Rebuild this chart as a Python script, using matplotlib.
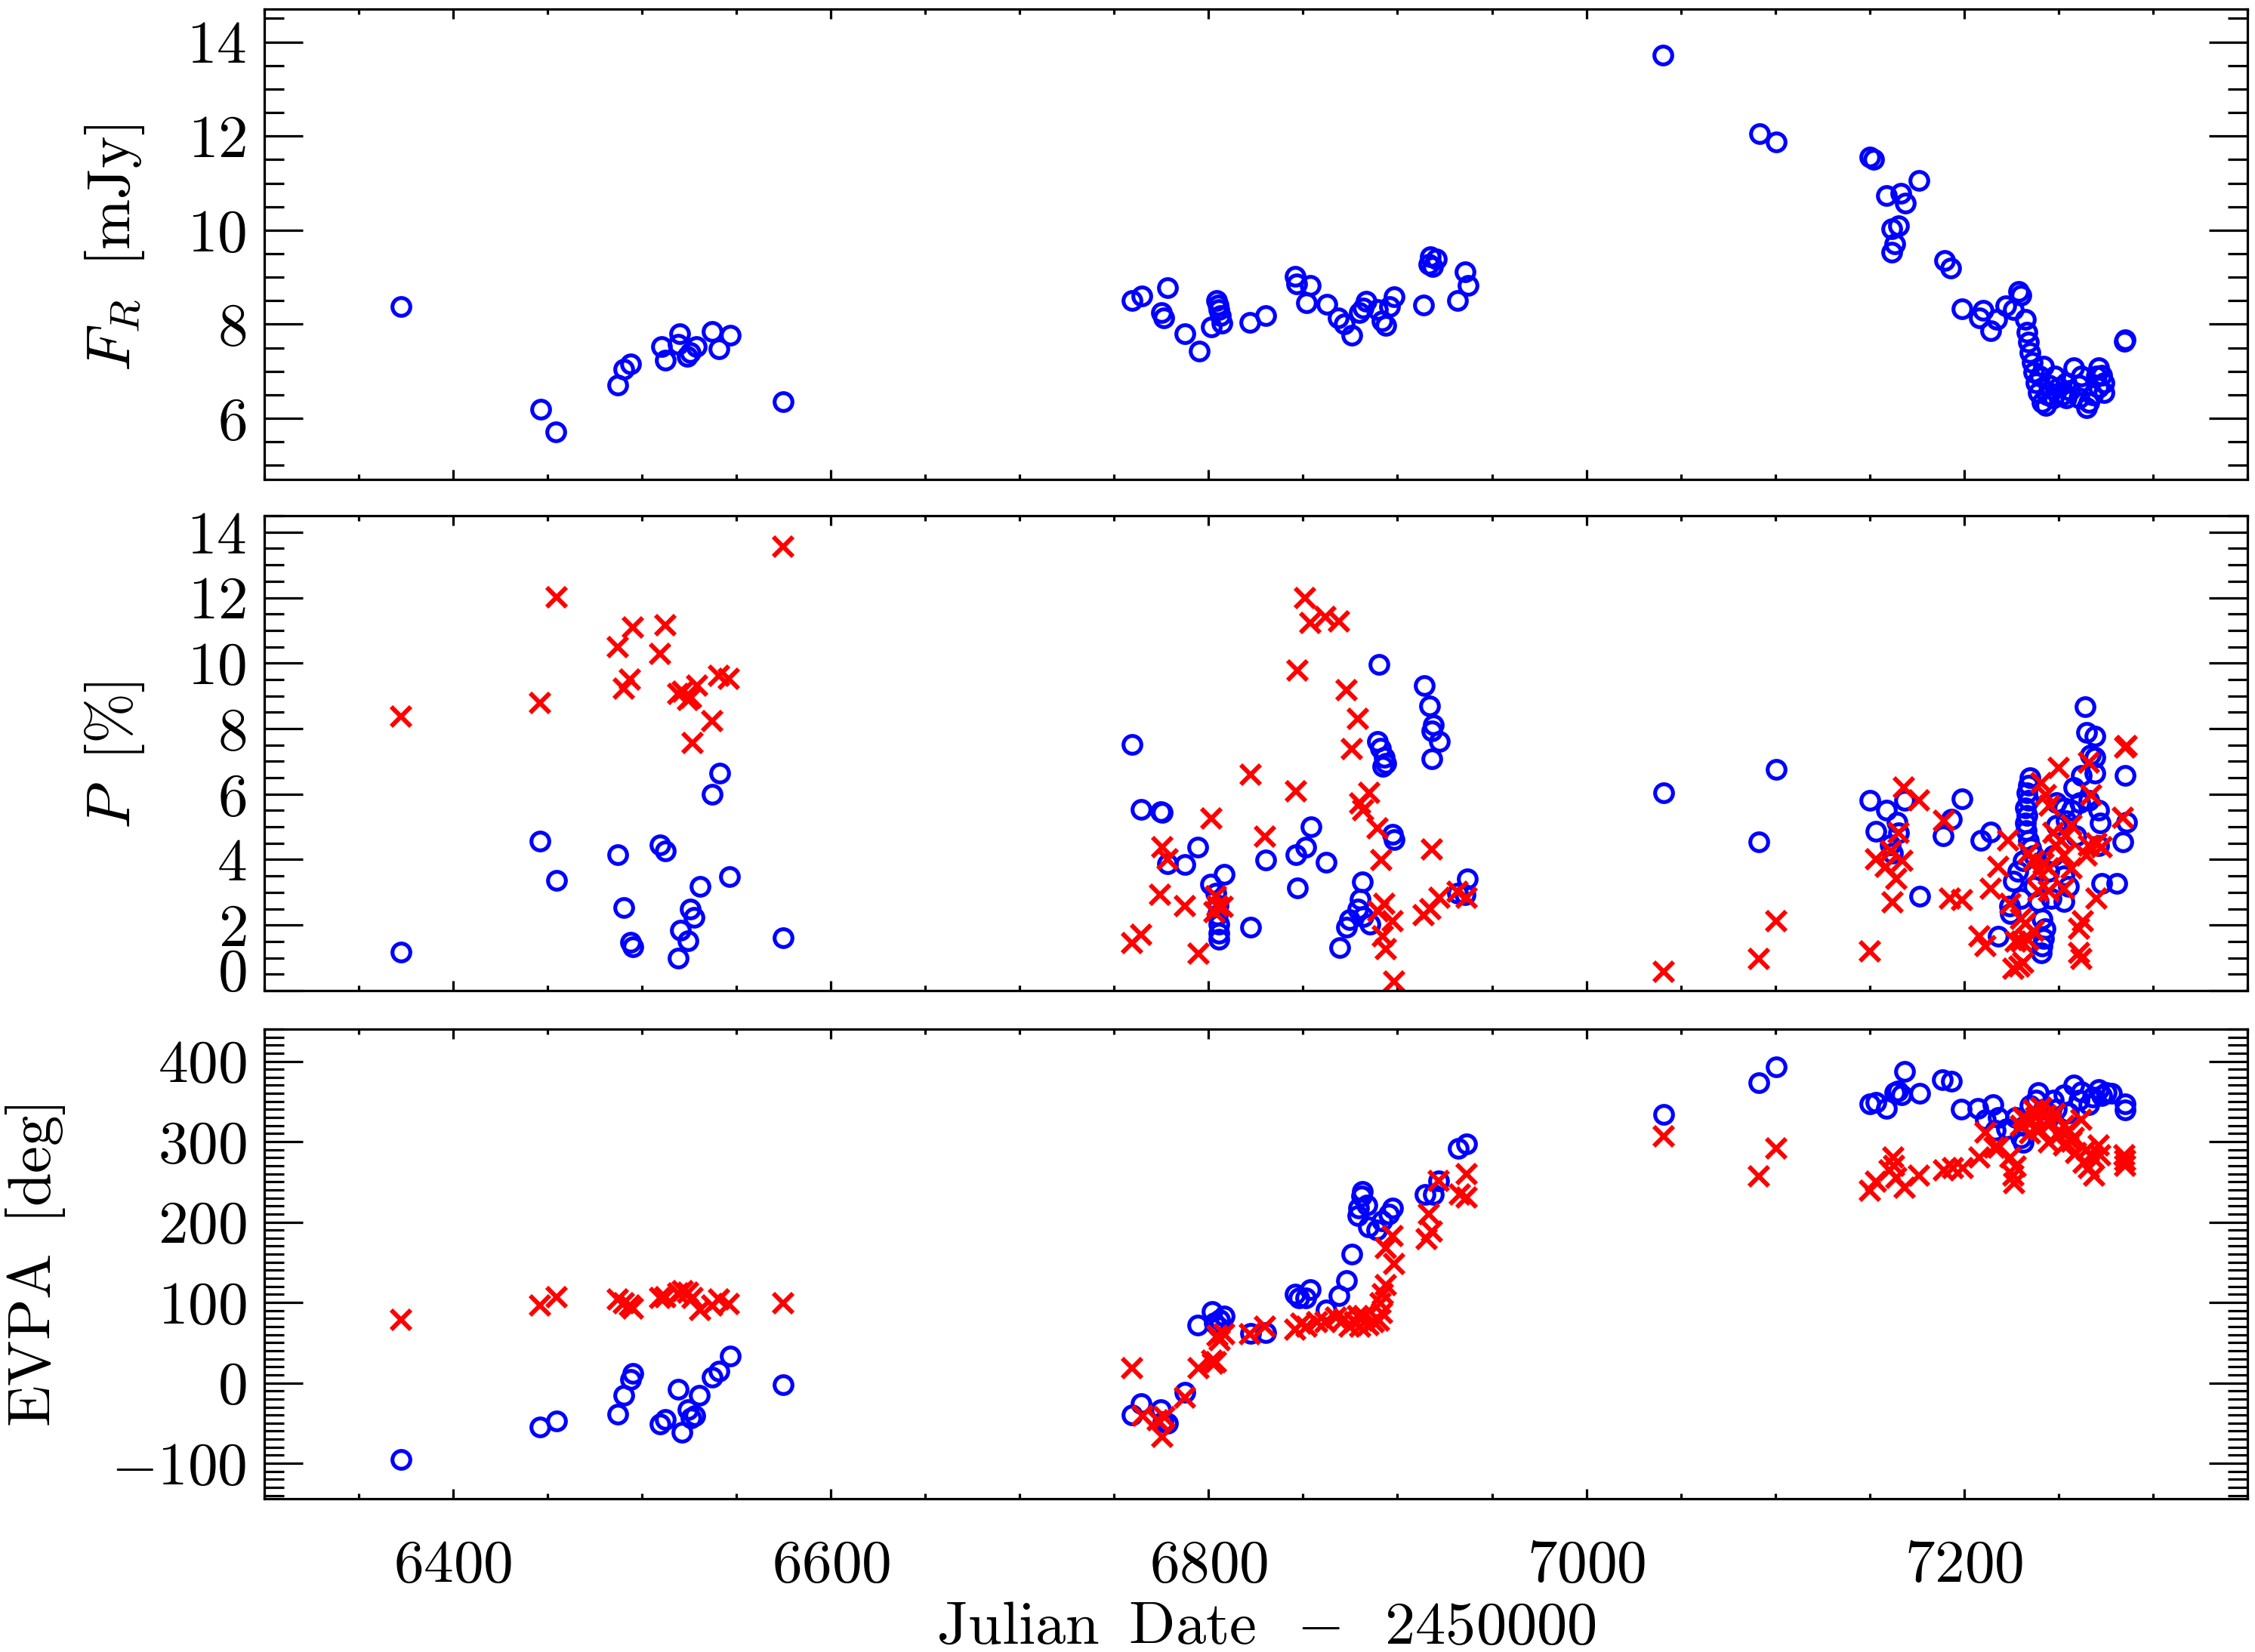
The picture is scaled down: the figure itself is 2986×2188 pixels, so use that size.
import numpy as np
import matplotlib
matplotlib.use('Agg')
import matplotlib.pyplot as plt
from matplotlib.ticker import FixedLocator, MultipleLocator, FuncFormatter, NullFormatter

plt.rcParams['mathtext.fontset'] = 'cm'
plt.rcParams['font.family'] = ['cmr10', 'DejaVu Serif']

# ---------------- data ----------------
# Panel 1: R-band flux density (mJy)
jd_flux = [6372.4, 6446.2, 6454.3, 6487.2, 6490.3, 6494.1, 6510.2, 6512.2, 6519.9, 6519.0, 6524.0, 6525.5,
           6528.6, 6537.0, 6540.8, 6546.7, 6574.6,
           6759.6, 6764.6, 6778.3, 6775.0, 6776.2, 6787.5, 6795.0, 6801.3, 6804.2, 6805.0, 6805.4, 6806.2,
           6807.0, 6822.0, 6830.4, 6845.8, 6846.5, 6854.0, 6852.0, 6862.5, 6868.8, 6871.7, 6876.0, 6880.0,
           6883.3, 6882.0, 6889.6, 6891.7, 6893.8, 6898.3, 6895.8, 6913.8, 6917.5, 6918.8, 6920.8, 6916.7,
           6932.0, 6936.0, 6937.5,
           7040.4, 7091.7, 7100.4, 7150.0, 7152.0, 7159.0, 7166.7, 7168.8, 7176.0, 7161.7, 7165.4, 7163.3,
           7161.7, 7189.6, 7192.9, 7199.0, 7208.1, 7210.1, 7214.1, 7217.4, 7222.1, 7226.1, 7229.1, 7230.0,
           7232.7, 7233.4, 7234.1, 7234.8, 7236.1, 7236.7, 7238.1, 7239.4, 7241.4, 7243.4, 7247.4, 7250.1,
           7254.1, 7258.1, 7260.7, 7254.1, 7260.7, 7264.7, 7266.1, 7271.4, 7272.7, 7274.1, 7274.1, 7271.4,
           7284.7, 7285.4, 7244.0, 7245.0, 7248.0, 7252.0, 7256.0, 7262.0, 7268.0, 7270.0, 7240.0, 7242.0]
flux = [8.37, 6.19, 5.71, 6.70, 7.04, 7.15, 7.52, 7.24, 7.80, 7.57, 7.31, 7.40,
        7.53, 7.84, 7.48, 7.77, 6.36,
        8.51, 8.60, 8.78, 8.24, 8.14, 7.80, 7.43, 7.94, 8.51, 8.41, 8.31, 8.18,
        8.02, 8.04, 8.19, 9.02, 8.85, 8.82, 8.45, 8.43, 8.14, 8.00, 7.77, 8.24,
        8.48, 8.35, 8.31, 8.07, 7.97, 8.58, 8.38, 8.40, 9.43, 9.22, 9.39, 9.27,
        8.51, 9.12, 8.82,
        13.72, 12.05, 11.88, 11.55, 11.50, 10.74, 10.78, 10.57, 11.06, 10.03, 10.10, 9.70,
        9.53, 9.36, 9.20, 8.32, 8.13, 8.29, 7.86, 8.10, 8.39, 8.31, 8.69, 8.62,
        8.10, 7.83, 7.62, 7.40, 7.19, 6.98, 6.76, 6.55, 6.33, 6.28, 6.44, 6.65,
        6.76, 7.08, 6.71, 6.44, 6.44, 6.22, 6.33, 7.08, 6.92, 6.76, 6.55, 6.65,
        7.64, 7.67, 6.50, 6.70, 6.90, 6.50, 6.60, 6.90, 6.50, 6.90, 6.90, 7.10]

# Panel 2: polarization degree (%), blue circles
jd_p_blue = [6372.4, 6446.1, 6454.6, 6487.2, 6490.3, 6494.1, 6495.1, 6509.4, 6512.2, 6519.1, 6520.5, 6524.5,
             6525.5, 6527.5, 6530.6, 6537.0, 6541.0, 6546.2, 6574.6,
             6759.6, 6764.3, 6774.6, 6775.5, 6794.3, 6778.1, 6787.4, 6808.1, 6801.0, 6804.0, 6804.6, 6805.3,
             6805.3, 6805.6, 6805.0, 6822.1, 6830.3, 6854.1, 6851.4, 6846.3, 6847.1, 6862.1, 6890.3, 6914.1,
             6917.0, 6918.9, 6918.1, 6922.1, 6918.1, 6889.3, 6891.0, 6893.0, 6893.7, 6892.4, 6897.4, 6898.1,
             6881.3, 6880.3, 6878.9, 6874.6, 6873.1, 6881.7, 6885.3, 6869.3, 6937.0, 6932.0, 6936.0,
             7040.8, 7100.6, 7091.3, 7150.3, 7159.1, 7168.5, 7164.5, 7153.4, 7165.4, 7161.0, 7162.0, 7199.1,
             7193.4, 7189.1, 7176.5, 7214.1, 7209.0, 7218.1,
             7234.7, 7234.1, 7233.4, 7234.1, 7232.7, 7233.4, 7232.4, 7233.0, 7234.1, 7235.4, 7236.7, 7231.4,
             7228.7, 7226.1, 7224.1, 7224.7, 7230.1, 7236.7, 7239.4, 7241.4, 7242.7, 7242.1, 7241.4, 7240.7,
             7264.1, 7264.7, 7269.4, 7266.7, 7269.4, 7262.1, 7269.4, 7285.4, 7258.1, 7248.7, 7252.7, 7256.7,
             7261.4, 7266.1, 7271.4, 7272.1, 7286.1, 7284.1, 7248.7, 7254.1, 7259.4, 7271.4, 7272.7, 7252.7,
             7255.4, 7252.7, 7247.4, 7244.7, 7246.1, 7281.0]
p_blue = [1.17, 4.57, 3.36, 4.16, 2.53, 1.48, 1.33, 4.44, 4.26, 0.99, 1.85, 1.53,
          2.48, 2.23, 3.18, 6.00, 6.64, 3.49, 1.62,
          7.52, 5.54, 5.47, 5.45, 4.39, 3.87, 3.84, 3.56, 3.25, 2.97, 2.31, 2.03,
          1.75, 1.56, 2.60, 1.93, 3.99, 5.00, 4.39, 4.15, 3.13, 3.92, 9.95, 9.32,
          8.68, 8.11, 7.92, 7.61, 7.08, 7.61, 7.40, 7.12, 6.93, 6.85, 4.76, 4.62,
          3.32, 2.78, 2.50, 2.17, 1.93, 2.26, 2.03, 1.32, 3.40, 2.97, 2.92,
          6.05, 6.75, 4.54, 5.82, 5.52, 5.81, 5.15, 4.86, 4.81, 4.45, 4.20, 5.86,
          5.23, 4.73, 2.88, 4.85, 4.58, 1.65,
          6.50, 6.27, 6.04, 5.81, 5.58, 5.35, 5.12, 4.89, 4.58, 4.35, 4.12, 3.96,
          3.65, 3.35, 2.58, 2.35, 2.80, 3.19, 2.73, 2.19, 1.88, 1.58, 1.35, 1.15,
          8.67, 7.88, 7.77, 7.19, 7.12, 6.58, 6.65, 6.58, 6.19, 5.73, 5.58, 5.50,
          5.73, 5.81, 5.50, 5.12, 5.15, 4.54, 5.04, 5.19, 4.73, 4.42, 3.27, 3.50,
          3.19, 2.73, 4.12, 3.65, 2.80, 3.28]

# Panel 2: polarization degree (%), red crosses
jd_p_red = [6372.4, 6446.1, 6454.6, 6487.2, 6495.1, 6490.3, 6493.6, 6509.4, 6512.2, 6519.1, 6521.6, 6524.2,
            6526.0, 6529.3, 6526.8, 6537.0, 6540.8, 6545.9, 6574.6,
            6851.1, 6853.9, 6861.7, 6868.9, 6847.1, 6873.1, 6879.1, 6876.0, 6822.1, 6846.3, 6885.0, 6880.3,
            6881.7, 6801.3, 6889.3, 6830.0, 6918.1, 6891.3, 6775.3, 6778.1, 6774.3, 6787.4, 6803.9, 6804.6,
            6807.4, 6803.1, 6764.3, 6759.6, 6794.6, 6893.0, 6890.0, 6897.4, 6892.1, 6893.9, 6898.1, 6913.9,
            6917.4, 6922.4, 6931.7, 6936.7,
            7040.8, 7091.3, 7100.6, 7150.3, 7168.1, 7176.1, 7165.4, 7189.4, 7153.4, 7161.4, 7158.7, 7167.4,
            7164.1, 7162.3, 7192.7, 7199.1, 7208.1, 7211.4, 7214.1, 7218.1, 7223.4, 7227.4, 7229.4, 7226.1,
            7231.4, 7230.7, 7234.1, 7224.7, 7230.1, 7232.7, 7236.7, 7234.1, 7236.7, 7240.7, 7245.4, 7250.1,
            7243.4, 7239.4, 7242.1, 7244.7, 7239.4, 7244.7, 7248.7, 7251.4, 7254.1, 7247.4, 7256.7, 7252.7,
            7256.7, 7252.7, 7266.1, 7267.4, 7266.1, 7270.1, 7272.7, 7264.7, 7270.1, 7262.7, 7260.7, 7260.7,
            7262.1, 7285.4, 7286.0, 7284.1]
p_red = [8.37, 8.79, 12.02, 10.48, 11.08, 9.22, 9.50, 10.28, 11.15, 9.07, 9.12, 8.87,
         8.95, 9.32, 7.56, 8.24, 9.62, 9.52, 13.55,
         11.98, 11.23, 11.42, 11.27, 9.78, 9.18, 8.30, 7.38, 6.60, 6.08, 6.04, 5.71,
         5.52, 5.25, 4.95, 4.70, 4.31, 3.99, 4.39, 4.01, 2.92, 2.59, 2.88, 2.59,
         2.55, 2.40, 1.70, 1.46, 1.13, 2.64, 2.41, 2.12, 1.65, 1.27, 0.28, 2.31,
         2.50, 2.83, 3.02, 2.83,
         0.58, 0.97, 2.12, 1.19, 6.19, 5.81, 4.81, 5.19, 4.00, 4.27, 3.77, 3.96,
         3.42, 2.69, 2.81, 2.77, 1.65, 1.35, 3.12, 3.77, 4.58, 1.50, 0.73, 0.66,
         0.85, 1.50, 1.55, 2.65, 2.19, 2.04, 1.81, 4.19, 3.96, 6.35, 5.65, 6.81,
         5.96, 3.65, 3.88, 3.73, 3.04, 3.04, 4.42, 4.58, 4.73, 4.81, 5.04, 4.12,
         3.73, 3.12, 6.96, 5.96, 4.42, 4.50, 4.38, 4.12, 2.81, 2.12, 1.88, 1.15,
         0.96, 7.42, 7.48, 5.27]

# Panel 3: EVPA (deg), blue circles
jd_evpa_blue = [6372.4, 6446.1, 6454.6, 6487.2, 6490.3, 6494.1, 6495.1, 6509.4, 6512.2, 6519.1, 6521.2, 6524.2,
                6526.0, 6528.0, 6530.4, 6537.0, 6540.8, 6546.6, 6574.6,
                6759.6, 6764.3, 6774.6, 6776.0, 6778.1, 6787.4, 6794.3, 6801.7, 6808.1, 6806.0, 6803.0, 6805.0,
                6822.1, 6830.3, 6846.0, 6848.0, 6853.9, 6851.4, 6862.1, 6869.1, 6873.1, 6876.0, 6881.3, 6881.0,
                6879.6, 6878.9, 6883.9, 6884.6, 6888.9, 6891.7, 6895.3, 6897.4, 6914.6, 6918.9, 6921.7, 6932.4,
                6936.7,
                7040.8, 7091.3, 7100.6, 7150.3, 7153.4, 7159.1, 7163.4, 7165.0, 7167.0, 7168.5, 7176.7, 7188.7,
                7193.4, 7198.7, 7207.4, 7215.4, 7211.4, 7218.0, 7216.7, 7222.7, 7231.4, 7230.0, 7227.4, 7239.4,
                7238.1, 7247.4, 7252.7, 7258.1, 7271.4, 7266.1, 7285.4, 7285.4, 7242.0, 7248.7, 7255.4, 7260.7,
                7272.7, 7275.4, 7235.0, 7245.0, 7232.0, 7262.0, 7268.0, 7278.0]
evpa_blue = [-95.4, -55.3, -47.7, -38.6, -15.7, 4.6, 12.2, -51.3, -45.2, -8.1, -61.4, -33.5,
             -43.7, -41.1, -15.7, 7.1, 14.7, 33.5, -2.0,
             -39.6, -25.5, -33.1, -48.4, -50.3, -12.1, 71.9, 89.1, 83.4, 78.0, 75.0, 70.0,
             61.3, 62.4, 110.2, 106.0, 115.9, 106.0, 91.0, 108.2, 127.4, 159.8, 238.2, 232.0,
             217.2, 207.6, 221.0, 194.2, 190.4, 201.9, 209.5, 217.2, 234.3, 234.3, 251.5, 291.7,
             297.4,
             333.9, 373.6, 392.5, 347.2, 348.7, 340.9, 361.2, 363.0, 358.0, 386.9, 359.7, 376.9,
             375.3, 340.0, 340.9, 345.6, 326.8, 330.0, 314.3, 315.9, 298.7, 305.0, 330.0, 361.2,
             351.9, 351.9, 358.0, 370.6, 364.4, 345.6, 347.2, 339.3, 340.0, 340.0, 336.0, 351.9,
             357.0, 361.0, 345.0, 330.0, 320.0, 362.0, 355.0, 360.0]

# Panel 3: EVPA (deg), red crosses
jd_evpa_red = [6372.4, 6446.1, 6454.6, 6487.2, 6490.3, 6493.6, 6495.1, 6509.4, 6512.2, 6519.1, 6521.6, 6524.2,
               6526.8, 6530.6, 6537.0, 6540.8, 6546.0, 6574.6,
               6759.6, 6764.9, 6773.1, 6776.7, 6775.3, 6787.4, 6794.6, 6801.7, 6803.8, 6802.4, 6804.6, 6808.1,
               6806.0, 6821.7, 6830.0, 6846.0, 6848.9, 6851.7, 6857.4, 6861.7, 6867.4, 6871.7, 6874.6, 6877.4,
               6878.9, 6880.3, 6882.4, 6884.6, 6887.4, 6890.3, 6891.7, 6891.0, 6892.4, 6893.9, 6898.1, 6893.9,
               6897.4, 6915.3, 6918.1, 6916.7, 6921.7, 6936.7, 6933.1, 6936.7,
               7040.8, 7091.3, 7100.6, 7150.3, 7153.4, 7160.7, 7162.7, 7164.1, 7168.7, 7163.0, 7176.1, 7189.4,
               7194.1, 7199.4, 7208.1, 7211.4, 7216.1, 7218.1, 7224.7, 7227.4, 7226.7, 7226.1, 7231.4, 7234.1,
               7230.1, 7236.7, 7240.7, 7243.4, 7246.0, 7244.7, 7250.0, 7252.7, 7255.4, 7258.1, 7262.1, 7259.4,
               7263.4, 7266.1, 7268.7, 7271.4, 7272.1, 7285.4, 7284.7, 7285.4, 7238.0, 7248.0, 7253.0, 7257.0,
               7265.0, 7268.0, 7240.0, 7235.0]
evpa_red = [78.2, 96.0, 107.0, 103.6, 99.0, 96.0, 93.0, 106.0, 107.0, 111.0, 114.0, 112.0,
            106.0, 91.0, 96.0, 103.6, 98.5, 99.0,
            18.4, -40.8, -46.5, -42.7, -67.5, -17.9, 18.4, 28.0, 26.0, 24.0, 58.6, 60.5,
            52.8, 60.5, 70.0, 66.2, 73.9, 70.0, 75.8, 75.8, 81.5, 79.6, 70.0, 75.8,
            83.4, 70.0, 83.4, 72.0, 75.8, 77.7, 87.2, 98.7, 110.2, 121.6, 148.4, 167.5,
            182.8, 179.0, 188.5, 209.5, 251.5, 259.2, 234.3, 230.5,
            306.7, 256.5, 292.0, 239.3, 250.2, 264.3, 279.9, 254.9, 242.4, 270.0, 258.0, 264.3,
            267.4, 267.4, 279.9, 311.2, 292.4, 292.4, 279.9, 269.0, 248.6, 258.0, 330.0, 325.0,
            320.0, 339.3, 342.5, 333.0, 323.7, 298.7, 308.0, 295.6, 314.3, 305.0, 326.8, 286.2,
            273.7, 267.4, 258.0, 295.6, 283.0, 276.8, 283.0, 270.0, 330.0, 335.0, 320.0, 300.0,
            290.0, 280.0, 315.0, 310.0]

x_major = [6400, 6600, 6800, 7000, 7200]
flux_ticks = [6, 8, 10, 12, 14]
p_ticks = [0, 2, 4, 6, 8, 10, 12, 14]
evpa_ticks = [-100, 0, 100, 200, 300, 400]

# ---------------- figure ----------------
W, H = 2986, 2188
fig = plt.figure(figsize=(W / 100, H / 100), dpi=100)

left, width = 0.1172, 0.8794
ax1 = fig.add_axes([left, 0.7098, width, 0.2847])
ax2 = fig.add_axes([left, 0.4004, width, 0.2874])
ax3 = fig.add_axes([left, 0.0928, width, 0.2843])

TICKSIZE = 57
LW = 2.3
mfmt = FuncFormatter(lambda v, p: r'$%d$' % int(round(v)))

for ax, yl, ymaj, ymin in [(ax1, (4.7, 14.7), flux_ticks, 0.5),
                           (ax2, (0.0, 14.5), p_ticks, 0.5),
                           (ax3, (-144, 440), evpa_ticks, 10)]:
    ax.set_xlim(6300, 7350)
    ax.set_ylim(*yl)
    ax.xaxis.set_major_locator(FixedLocator(x_major))
    ax.xaxis.set_minor_locator(MultipleLocator(50))
    ax.yaxis.set_major_locator(FixedLocator(ymaj))
    ax.yaxis.set_minor_locator(MultipleLocator(ymin))
    ax.yaxis.set_major_formatter(mfmt)
    for s in ax.spines.values():
        s.set_linewidth(LW)
    ax.tick_params(axis='both', which='both', direction='in', top=True, right=True, width=LW)
    ax.tick_params(axis='y', which='major', length=37, pad=17, labelsize=TICKSIZE)
    ax.tick_params(axis='y', which='minor', length=18.5)
    ax.tick_params(axis='x', which='major', length=9.5, pad=39, labelsize=TICKSIZE)
    ax.tick_params(axis='x', which='minor', length=5)

ax1.xaxis.set_major_formatter(NullFormatter())
ax2.xaxis.set_major_formatter(NullFormatter())
ax3.xaxis.set_major_formatter(FuncFormatter(lambda v, p: r'$%d$' % int(round(v))))

MS_O, MEW_O = 17, 3.7
MS_X, MEW_X = 19, 4.3
ax1.plot(jd_flux, flux, 'o', mfc='none', mec='blue', ms=MS_O, mew=MEW_O)
ax2.plot(jd_p_blue, p_blue, 'o', mfc='none', mec='blue', ms=MS_O, mew=MEW_O)
ax2.plot(jd_p_red, p_red, 'x', color='red', ms=MS_X, mew=MEW_X)
ax3.plot(jd_evpa_blue, evpa_blue, 'o', mfc='none', mec='blue', ms=MS_O, mew=MEW_O)
ax3.plot(jd_evpa_red, evpa_red, 'x', color='red', ms=MS_X, mew=MEW_X)

# lowest label of the P panel sits on the axis
ax2.yaxis.get_major_ticks()[0].label1.set_verticalalignment('baseline')

LABSIZE = 58
fig.text(0.0509, 0.850, r'$F_R\;\;[\mathrm{mJy}]$', rotation=90, ha='center', va='center', fontsize=LABSIZE)
fig.text(0.0509, 0.543, r'$P\;\;[\%]$', rotation=90, ha='center', va='center', fontsize=LABSIZE)
fig.text(0.0159, 0.234, r'$\mathrm{EVPA}\;\;[\mathrm{deg}]$', rotation=90, ha='center', va='center', fontsize=LABSIZE)
fig.text(0.5617, 0.0142, r'$\mathrm{Julian\;\;Date}\;\;-\;\;2450000$', ha='center', va='center', fontsize=LABSIZE)

fig.savefig('out.png', dpi=100)
